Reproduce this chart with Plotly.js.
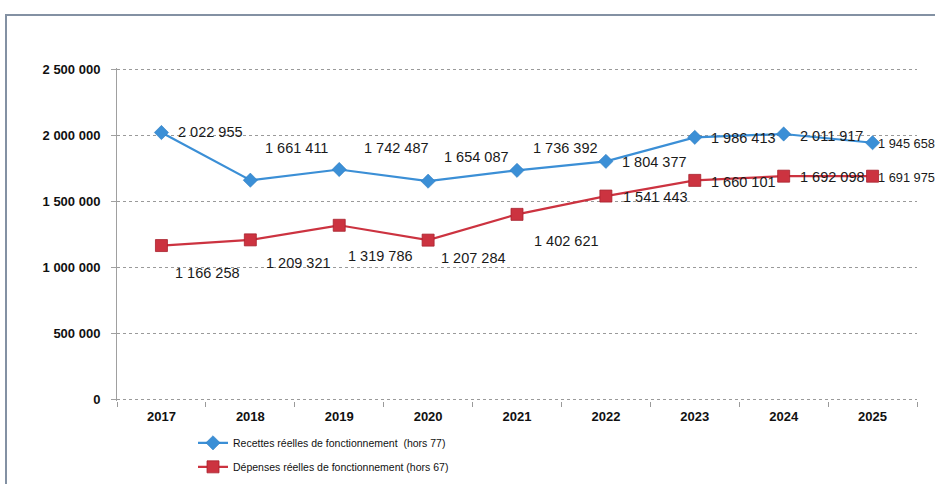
<!DOCTYPE html>
<html><head><meta charset="utf-8">
<script src="https://cdn.plot.ly/plotly-3.0.1.min.js"></script>
<style>
html,body{margin:0;padding:0;background:#fff;overflow:hidden;}
#chart{width:935px;height:484px;position:absolute;left:0;top:0;}
#frame{position:absolute;left:5px;top:14px;width:960px;height:500px;border:2px solid #8391a3;box-sizing:border-box;pointer-events:none;}
</style></head>
<body>
<div id="chart"></div>
<div id="frame"></div>
<script>
const years = ['2017','2018','2019','2020','2021','2022','2023','2024','2025'];
const recettes = [2022955, 1661411, 1742487, 1654087, 1736392, 1804377, 1986413, 2011917, 1945658];
const depenses = [1166258, 1209321, 1319786, 1207284, 1402621, 1541443, 1660101, 1692098, 1691975];
const nameRecettes = 'Recettes réelles de fonctionnement  (hors 77)';
const nameDepenses = 'Dépenses réelles de fonctionnement (hors 67)';

const blue = '#3b8fd6', red = '#cc3340';
function fmt(v){ return String(v).replace(/\B(?=(\d{3})+(?!\d))/g, ' '); }

// label offsets (pixels, style only): [dx, dy] with dy positive = up
const recOffsets = [[15,1],[13,32],[23,22],[14,24],[14,22],[14,-1],[14,-1],[14,-2],[3,-1]];
const depOffsets = [[12,-27],[14,-23],[7,-31],[11,-18],[15,-27],[15,-1],[14,-2],[14,-1],[3,-1]];
// label font sizes (style only); the last labels sit at the right edge
const labelSizes = [14.5,14.5,14.5,14.5,14.5,14.5,14.5,14.5,12.8];

const annotations = [];
function addLabels(vals, offs){
  vals.forEach((v,i)=>{
    annotations.push({x: i, y: v, xref:'x', yref:'y', text: fmt(v), showarrow:false,
      xanchor:'left', yanchor:'middle', xshift:offs[i][0], yshift:offs[i][1],
      font:{family:'Liberation Sans, Arial', size:labelSizes[i], color:'#1a1a1a'}});
  });
}
addLabels(recettes, recOffsets);
addLabels(depenses, depOffsets);

const traces = [
  {x: years, y: recettes, name: nameRecettes, legendgroup:'a', type:'scatter', mode:'lines+markers',
   line:{color:blue, width:2.2}, marker:{symbol:'diamond', size:11, color:blue, line:{color:'#2a78bd', width:0.5}}},
  {x: years, y: depenses, name: nameDepenses, legendgroup:'b', type:'scatter', mode:'lines+markers',
   line:{color:red, width:2.2}, marker:{symbol:'square', size:12, color:red, line:{color:'#a8222d', width:0.8}}}
];

const axFont = {family:'Liberation Sans, Arial', size:13, color:'#111', weight:'bold'};
const layout = {
  width:935, height:484,
  margin:{l:117, r:18, t:68, b:83},
  paper_bgcolor:'#fff', plot_bgcolor:'#fff',
  separators:', ',
  showlegend:true,
  legend:{x:0.095, y:0.115, xref:'paper', yref:'container', xanchor:'left', yanchor:'top', orientation:'v',
    font:{family:'Liberation Sans, Arial', size:10.5, color:'#111'},
    itemwidth:30, tracegroupgap:5, bgcolor:'rgba(0,0,0,0)'},
  xaxis:{type:'category', range:[-0.5,8.5], showgrid:false, zeroline:false,
    showline:false, automargin:false,
    ticks:'outside', tickson:'boundaries', ticklen:5, tickcolor:'#9a9a9a',
    ticklabelstandoff:6, tickfont:axFont},
  yaxis:{range:[-12000,2512000], tickvals:[0,500000,1000000,1500000,2000000,2500000], tickformat:',d', showgrid:true,
    gridcolor:'#9a9a9a', griddash:'dot', gridwidth:1, zeroline:false, automargin:false,
    showline:true, linecolor:'#a0a0a0', linewidth:1,
    ticks:'outside', ticklen:5, tickcolor:'#a0a0a0', ticklabelstandoff:8,
    tickfont:axFont},
  annotations: annotations
};

Plotly.newPlot('chart', traces, layout, {displayModeBar:false, staticPlot:true});
</script>
</body></html>
